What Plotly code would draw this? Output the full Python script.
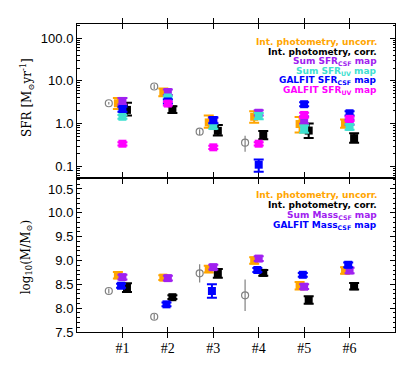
import plotly.graph_objects as go

# ---------------- data ----------------
galaxies = ["#1", "#2", "#3", "#4", "#5", "#6"]
gx = [1, 2, 3, 4, 5, 6]

# SFR panel (Msun/yr)
sfr_prior = [3.0, 7.4, 0.65, 0.36]
sfr_prior_ep = [0.2, 1.0, 0.09, 0.16]
sfr_prior_em = [0.2, 0.9, 0.11, 0.14]

sfr_uncorr = [3.0, 5.4, 1.07, 1.45, 0.98, 1.0]
sfr_uncorr_ep = [1.0, 1.2, 0.48, 0.5, 0.45, 0.25]
sfr_uncorr_em = [0.8, 1.0, 0.27, 0.4, 0.36, 0.2]

sfr_corr = [2.1, 2.15, 0.68, 0.53, 0.69, 0.46]
sfr_corr_ep = [1.0, 0.4, 0.25, 0.14, 0.32, 0.14]
sfr_corr_em = [0.55, 0.37, 0.15, 0.1, 0.23, 0.1]

sfr_sum_csf = [3.4, 5.5, 1.2, 1.8, 1.25, 1.1]
sfr_sum_csf_e = [0.6, 0.8, 0.15, 0.25, 0.25, 0.15]

sfr_sum_uv = [1.45, 4.1, 0.88, 1.52, 0.76, 0.84]
sfr_sum_uv_e = [0.15, 0.3, 0.12, 0.25, 0.15, 0.12]

sfr_gal_csf = [2.2, 3.3, 1.22, 0.11, 2.85, 1.75]
sfr_gal_csf_e = [0.3, 0.35, 0.2, 0.035, 0.3, 0.2]

sfr_gal_uv = [0.34, 2.95, 0.28, 0.34, 1.6, 1.3]
sfr_gal_uv_e = [0.03, 0.3, 0.025, 0.03, 0.2, 0.15]

# Mass panel (log10 M/Msun)
mass_prior = [8.36, 7.82, 8.73, 8.27]
mass_prior_e = [0.05, 0.06, 0.19, 0.33]

mass_uncorr = [8.69, 8.64, 8.82, 9.0, 8.47, 8.79]
mass_uncorr_e = [0.07, 0.05, 0.07, 0.07, 0.08, 0.07]

mass_corr = [8.43, 8.23, 8.73, 8.74, 8.17, 8.46]
mass_corr_e = [0.09, 0.04, 0.09, 0.06, 0.08, 0.07]

mass_sum_csf = [8.65, 8.63, 8.86, 9.04, 8.45, 8.79]
mass_sum_csf_e = [0.05, 0.05, 0.05, 0.05, 0.05, 0.06]

mass_gal_csf = [8.47, 8.08, 8.36, 8.8, 8.70, 8.91]
mass_gal_csf_e = [0.04, 0.04, 0.14, 0.04, 0.04, 0.05]

sfr_ticks = [0.1, 1.0, 10.0, 100.0]
sfr_ticktext = ["0.1", "1.0", "10.0", "100.0"]
mass_ticks = [7.5, 8.0, 8.5, 9.0, 9.5, 10.0, 10.5]
mass_ticktext = ["7.5", "8.0", "8.5", "9.0", "9.5", "10.0", "10.5"]

legend_sfr = [
    ("Int. photometry, uncorr.", "#FFA500"),
    ("Int. photometry, corr.", "#000000"),
    ("Sum SFR<sub>CSF</sub> map", "#A020F0"),
    ("Sum SFR<sub>UV</sub> map", "#40E0D0"),
    ("GALFIT SFR<sub>CSF</sub> map", "#0000FF"),
    ("GALFIT SFR<sub>UV</sub> map", "#FF00FF"),
]
legend_mass = [
    ("Int. photometry, uncorr.", "#FFA500"),
    ("Int. photometry, corr.", "#000000"),
    ("Sum Mass<sub>CSF</sub> map", "#A020F0"),
    ("GALFIT Mass<sub>CSF</sub> map", "#0000FF"),
]

# ---------------- figure ----------------
fig = go.Figure()


def shift(xs, d, n=None):
    xs = xs if n is None else xs[:n]
    return [v + d for v in xs]


def sq(x, y, ep, em, color, xa, ya):
    fig.add_trace(go.Scatter(
        x=x, y=y, mode="markers", xaxis=xa, yaxis=ya, showlegend=False,
        marker=dict(symbol="square", size=8, color=color, line=dict(width=0)),
        error_y=dict(type="data", symmetric=False, array=ep, arrayminus=em,
                     color=color, thickness=2, width=5),
    ))


def circ(x, y, ep, em, xa, ya):
    fig.add_trace(go.Scatter(
        x=x, y=y, mode="markers", xaxis=xa, yaxis=ya, showlegend=False,
        marker=dict(symbol="circle-open", size=7, color="#808080",
                    line=dict(width=1.2, color="#808080")),
        error_y=dict(type="data", symmetric=False, array=ep, arrayminus=em,
                     color="#808080", thickness=1.2, width=0),
    ))


# top panel (SFR)
circ(shift(gx, -0.3, 4), sfr_prior, sfr_prior_ep, sfr_prior_em, "x2", "y2")
sq(shift(gx, -0.1), sfr_uncorr, sfr_uncorr_ep, sfr_uncorr_em, "#FFA500", "x2", "y2")
sq(shift(gx, 0.1), sfr_corr, sfr_corr_ep, sfr_corr_em, "#000000", "x2", "y2")
sq(shift(gx, 0.0), sfr_sum_csf, sfr_sum_csf_e, sfr_sum_csf_e, "#A020F0", "x2", "y2")
sq(shift(gx, 0.0), sfr_sum_uv, sfr_sum_uv_e, sfr_sum_uv_e, "#40E0D0", "x2", "y2")
sq(shift(gx, 0.0), sfr_gal_csf, sfr_gal_csf_e, sfr_gal_csf_e, "#0000FF", "x2", "y2")
sq(shift(gx, 0.0), sfr_gal_uv, sfr_gal_uv_e, sfr_gal_uv_e, "#FF00FF", "x2", "y2")

# bottom panel (mass)
circ(shift(gx, -0.3, 4), mass_prior, mass_prior_e, mass_prior_e, "x", "y")
sq(shift(gx, -0.1), mass_uncorr, mass_uncorr_e, mass_uncorr_e, "#FFA500", "x", "y")
sq(shift(gx, 0.1), mass_corr, mass_corr_e, mass_corr_e, "#000000", "x", "y")
sq(shift(gx, 0.0), mass_sum_csf, mass_sum_csf_e, mass_sum_csf_e, "#A020F0", "x", "y")
sq(shift(gx, -0.03), mass_gal_csf, mass_gal_csf_e, mass_gal_csf_e, "#0000FF", "x", "y")

# dummy traces so the right-hand tick axes are drawn
fig.add_trace(go.Scatter(x=[None], y=[None], xaxis="x", yaxis="y3",
                         showlegend=False, hoverinfo="skip"))
fig.add_trace(go.Scatter(x=[None], y=[None], xaxis="x2", yaxis="y4",
                         showlegend=False, hoverinfo="skip"))

tickfont = dict(family="Liberation Sans", size=13, color="black")
axis_common = dict(showline=True, linecolor="black", linewidth=1, mirror="allticks",
                   ticks="inside", ticklen=5, tickcolor="black", tickwidth=1,
                   showgrid=False, zeroline=False)

sfr_minor = []
for dec in [0.01, 0.1, 1.0, 10.0, 100.0]:
    for m in range(2, 10):
        sfr_minor.append(round(dec * m, 4))

mass_minor = dict(dtick=0.1, tick0=7.5, ticks="inside", ticklen=2.5,
                  tickcolor="black", showgrid=False)
sfr_minor_d = dict(tickmode="array", tickvals=sfr_minor, ticks="inside",
                   ticklen=2.5, tickcolor="black", showgrid=False)

# browser body margin is 8 px, so the figure is sized/margined to compensate
fig.update_layout(
    width=410, height=374,
    margin=dict(l=69, r=23, t=16, b=49.5),
    paper_bgcolor="white", plot_bgcolor="white",
    xaxis=dict(domain=[0, 1], anchor="y", range=[0, 7], tickmode="array",
               tickvals=gx, ticktext=galaxies,
               tickfont=dict(family="Liberation Serif", size=14, color="black"),
               ticklabelstandoff=3, **axis_common),
    yaxis=dict(domain=[0, 0.5], anchor="x", range=[7.5, 10.73], tickmode="array",
               tickvals=mass_ticks, ticktext=mass_ticktext, tickfont=tickfont,
               minor=mass_minor, **axis_common),
    yaxis3=dict(overlaying="y", side="right", anchor="x", range=[7.5, 10.73],
                tickmode="array", tickvals=mass_ticks, showticklabels=False,
                ticks="inside", ticklen=5, tickcolor="black", showline=False,
                showgrid=False, zeroline=False, minor=mass_minor),
    xaxis2=dict(domain=[0, 1], anchor="y2", range=[0, 7], tickmode="array",
                tickvals=gx, showticklabels=False, **axis_common),
    yaxis2=dict(domain=[0.5, 1], anchor="x2", type="log", range=[-1.27, 2.33],
                tickmode="array", tickvals=sfr_ticks, ticktext=sfr_ticktext,
                tickfont=tickfont, minor=sfr_minor_d, **axis_common),
    yaxis4=dict(overlaying="y2", side="right", anchor="x2", type="log",
                range=[-1.27, 2.33], tickmode="array", tickvals=sfr_ticks,
                showticklabels=False, ticks="inside", ticklen=5, tickcolor="black",
                showline=False, showgrid=False, zeroline=False, minor=sfr_minor_d),
)

annotations = []
# axis titles
annotations.append(dict(text="SFR [M<sub>⊙</sub>yr<sup>-1</sup>]", xref="paper", yref="paper",
                        x=-0.157, y=0.76, textangle=-90, showarrow=False,
                        xanchor="center", yanchor="middle",
                        font=dict(family="DejaVu Serif", size=12, color="black")))
annotations.append(dict(text="log<sub>10</sub>(M/M<sub>⊙</sub>)", xref="paper", yref="paper",
                        x=-0.157, y=0.243, textangle=-90, showarrow=False,
                        xanchor="center", yanchor="middle",
                        font=dict(family="DejaVu Serif", size=12, color="black")))

leg_x = 0.951
for i, (t, c) in enumerate(legend_sfr):
    annotations.append(dict(text="<b>" + t + "</b>", xref="paper", yref="paper",
                            x=leg_x, y=0.9416 - i * 0.0316, showarrow=False,
                            xanchor="right", yanchor="middle",
                            font=dict(family="DejaVu Sans", size=9, color=c)))
for i, (t, c) in enumerate(legend_mass):
    annotations.append(dict(text="<b>" + t + "</b>", xref="paper", yref="paper",
                            x=leg_x, y=0.4439 - i * 0.0324, showarrow=False,
                            xanchor="right", yanchor="middle",
                            font=dict(family="DejaVu Sans", size=9, color=c)))
fig.update_layout(annotations=annotations)

fig.write_html("out.html")
